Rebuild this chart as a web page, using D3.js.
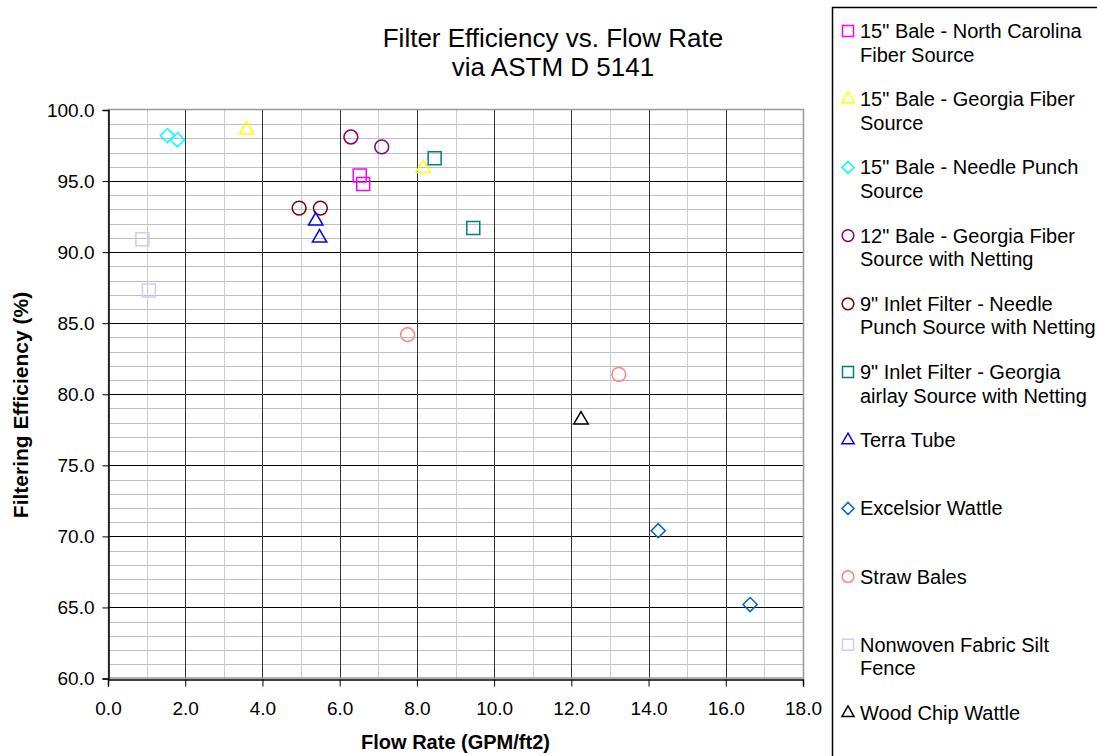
<!DOCTYPE html>
<html>
<head>
<meta charset="utf-8">
<script src="https://cdn.jsdelivr.net/npm/d3@7"></script>
<style>
  body { margin: 0; background: #fff; }
  text { font-family: "Liberation Sans", Arial, sans-serif; fill: #000; }
</style>
</head>
<body>
<svg width="1097" height="756"></svg>
<script>
// series, in legend order
let seriesNames = [
    ["15\" Bale - North Carolina", "Fiber Source"],
    ["15\" Bale - Georgia Fiber", "Source"],
    ["15\" Bale - Needle Punch", "Source"],
    ["12\" Bale - Georgia Fiber", "Source with Netting"],
    ["9\" Inlet Filter - Needle", "Punch Source with Netting"],
    ["9\" Inlet Filter - Georgia", "airlay Source with Netting"],
    ["Terra Tube"],
    ["Excelsior Wattle"],
    ["Straw Bales"],
    ["Nonwoven Fabric Silt", "Fence"],
    ["Wood Chip Wattle"]
];
let flowRate = [
    [6.52, 6.61],
    [3.59, 8.16],
    [1.54, 1.80],
    [6.29, 7.09],
    [4.95, 5.50],
    [8.46, 9.46],
    [5.38, 5.48],
    [14.25, 16.63],
    [7.76, 13.23],
    [0.89, 1.06],
    [12.25]
];
let efficiency = [
    [95.4, 94.8],
    [98.6, 95.9],
    [98.2, 97.9],
    [98.1, 97.4],
    [93.1, 93.1],
    [96.6, 91.7],
    [92.2, 91.0],
    [70.4, 65.2],
    [84.2, 81.4],
    [90.9, 87.3],
    [78.2]
];
let xTicks = [0, 2, 4, 6, 8, 10, 12, 14, 16, 18];
let yTicks = [60, 65, 70, 75, 80, 85, 90, 95, 100];
let titleLines = ["Filter Efficiency vs. Flow Rate", "via ASTM D 5141"];

// marker styles
let shapes = ["square", "triangle", "diamond", "circle", "circle", "square", "triangle", "diamond", "circle", "square", "triangle"];
let colors = ["#ff00ff", "#ffff00", "#00ffff", "#800080", "#800000", "#008080", "#0000ff", "#0066cc", "#ff8080", "#ccccff", "#000000"];

let svg = d3.select("svg"),
    plot = {left: 108, right: 803, top: 110, bottom: 678.5};

let x = d3.scaleLinear().domain([0, 18]).range([plot.left, plot.right]),
    y = d3.scaleLinear().domain([60, 100]).range([plot.bottom, plot.top]);

// d3 symbol path for a marker; big = plot marker, else legend marker
function symbolPath(shape, big) {
    let k = big ? 1 : 0.72;
    if (shape === "square") return d3.symbol(d3.symbolSquare, 169 * k)();
    if (shape === "diamond") return d3.symbol(d3.symbolSquare, 100 * k)();
    if (shape === "circle") return d3.symbol(d3.symbolCircle, 150 * k)();
    return d3.symbol(d3.symbolTriangle, 90 * k)();
}
function symbolRotate(shape) {
    return shape === "diamond" ? " rotate(45)" : "";
}

// grid
let grid = svg.append("g").attr("class", "grid");
grid.selectAll("line.ymin")
    .data(d3.range(61, 100).filter(v => v % 5 !== 0))
    .enter().append("line")
    .attr("x1", plot.left).attr("x2", plot.right)
    .attr("y1", d => Math.round(y(d)) + 0.5).attr("y2", d => Math.round(y(d)) + 0.5)
    .attr("stroke", "#bdbdbd");
grid.selectAll("line.xmin")
    .data(d3.range(1, 18, 2))
    .enter().append("line")
    .attr("y1", plot.top).attr("y2", plot.bottom)
    .attr("x1", d => Math.round(x(d)) + 0.5).attr("x2", d => Math.round(x(d)) + 0.5)
    .attr("stroke", "#cccccc");
grid.selectAll("line.ymaj")
    .data(yTicks.slice(1, -1))
    .enter().append("line")
    .attr("x1", plot.left).attr("x2", plot.right)
    .attr("y1", d => Math.round(y(d)) + 0.5).attr("y2", d => Math.round(y(d)) + 0.5)
    .attr("stroke", "#000");
grid.selectAll("line.xmaj")
    .data(xTicks.slice(1, -1))
    .enter().append("line")
    .attr("y1", plot.top).attr("y2", plot.bottom)
    .attr("x1", d => Math.round(x(d)) + 0.5).attr("x2", d => Math.round(x(d)) + 0.5)
    .attr("stroke", "#333");

// plot border
svg.append("rect")
    .attr("x", plot.left + 0.5).attr("y", plot.top - 0.5)
    .attr("width", plot.right - plot.left).attr("height", plot.bottom - plot.top)
    .attr("fill", "none").attr("stroke", "#999").attr("stroke-width", 1.5);

// axes
let yAxis = svg.append("g")
    .attr("transform", "translate(" + (plot.left + 0.5) + ",0)")
    .call(d3.axisLeft(y).tickValues(yTicks).tickFormat(d3.format(".1f")).tickSize(6).tickPadding(8));
let xAxis = svg.append("g")
    .attr("transform", "translate(0," + (Math.round(plot.bottom) + 0.5) + ")")
    .call(d3.axisBottom(x).tickValues(xTicks).tickFormat(d3.format(".1f")).tickSize(7).tickPadding(15));
[xAxis, yAxis].forEach(function (a) {
    a.select(".domain").attr("stroke", "#000").attr("stroke-width", 1.5);
    a.selectAll(".tick line").attr("stroke", "#000");
    a.selectAll(".tick text")
        .style("font-family", "'Liberation Sans', Arial, sans-serif")
        .style("font-size", "19px").attr("fill", "#000");
});

// titles
svg.selectAll("text.title")
    .data(titleLines)
    .enter().append("text")
    .attr("class", "title")
    .attr("x", 553).attr("y", (d, i) => 47 + i * 29)
    .attr("text-anchor", "middle")
    .style("font-size", "26px")
    .text(d => d);

svg.append("text")
    .attr("x", (plot.left + plot.right) / 2).attr("y", 749)
    .attr("text-anchor", "middle")
    .style("font-size", "20px").style("font-weight", "bold")
    .text("Flow Rate (GPM/ft2)");

svg.append("text")
    .attr("transform", "translate(28,405) rotate(-90)")
    .attr("text-anchor", "middle")
    .style("font-size", "21px").style("font-weight", "bold")
    .text("Filtering Efficiency (%)");

// points
seriesNames.forEach(function (name, i) {
    let pts = flowRate[i].map((fx, j) => ({x: fx, y: efficiency[i][j]}));
    svg.append("g").attr("class", "series")
        .selectAll("path")
        .data(pts)
        .enter().append("path")
        .attr("transform", d => "translate(" + x(d.x) + "," + y(d.y) + ")" + symbolRotate(shapes[i]))
        .attr("d", symbolPath(shapes[i], true))
        .attr("fill", "none")
        .attr("stroke", colors[i])
        .attr("stroke-width", 1.5);
});

// legend
let legend = svg.append("g").attr("class", "legend");
legend.append("rect")
    .attr("x", 832.5).attr("y", 7.5)
    .attr("width", 280).attr("height", 760)
    .attr("fill", "#fff").attr("stroke", "#000").attr("stroke-width", 1.5);
let entry = legend.selectAll("g.entry")
    .data(seriesNames)
    .enter().append("g")
    .attr("class", "entry")
    .attr("transform", (d, i) => "translate(0," + (31 + i * 68.2) + ")");
entry.append("path")
    .attr("transform", (d, i) => "translate(848,0)" + symbolRotate(shapes[i]))
    .attr("d", (d, i) => symbolPath(shapes[i], false))
    .attr("fill", "none")
    .attr("stroke", (d, i) => colors[i])
    .attr("stroke-width", 1.5);
entry.each(function (lines) {
    let t = d3.select(this).append("text")
        .style("font-size", "20px");
    lines.forEach(function (line, k) {
        t.append("tspan").attr("x", 860).attr("y", 7 + k * 23.5).text(line);
    });
});
</script>
</body>
</html>
